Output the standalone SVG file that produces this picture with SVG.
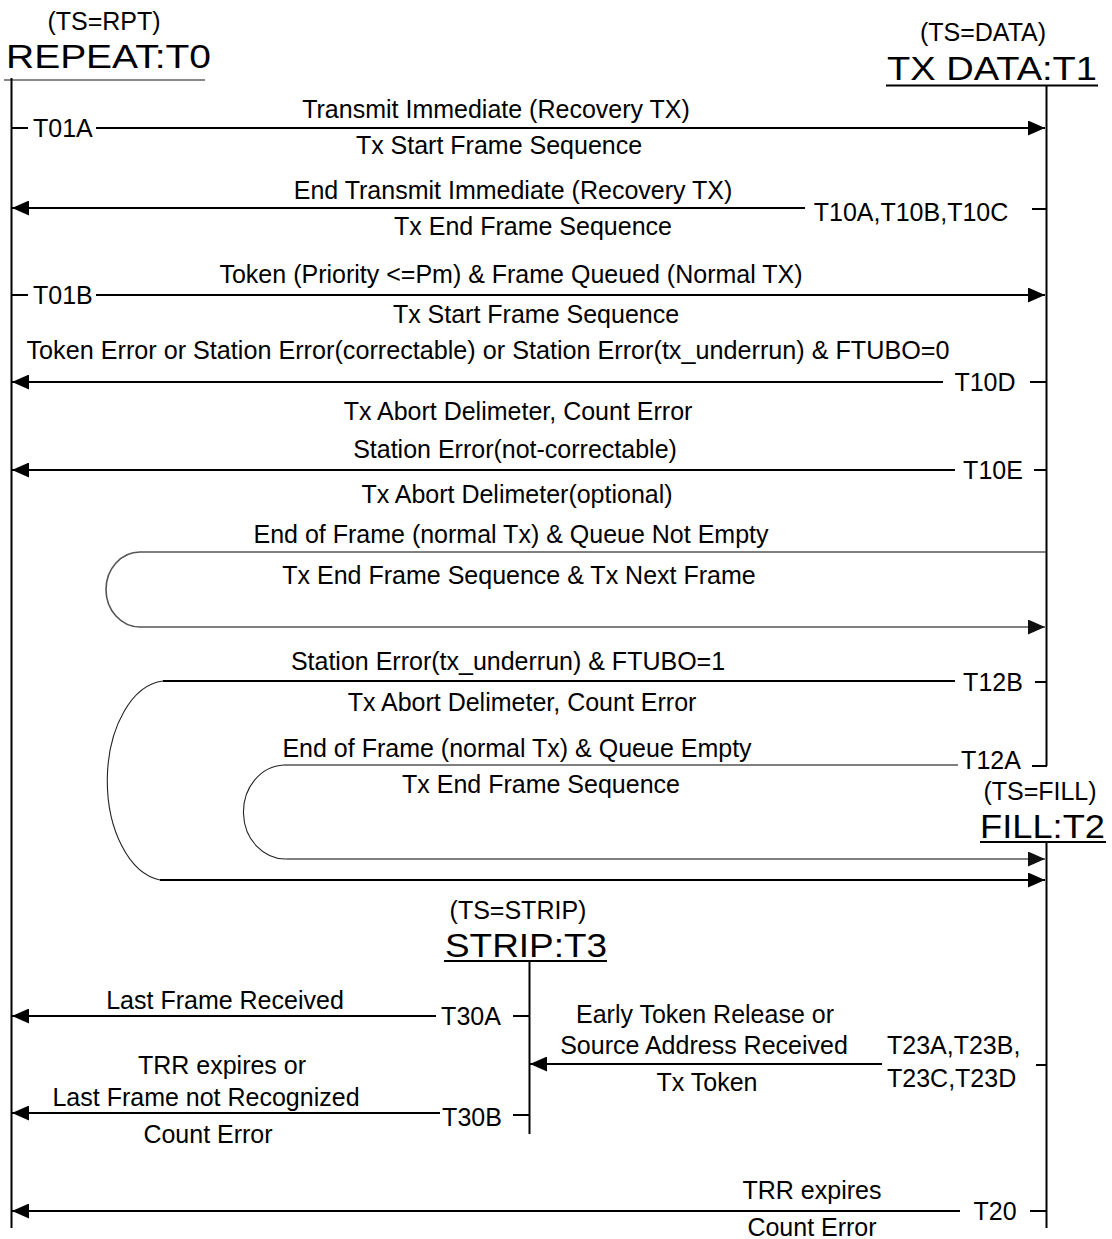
<svg xmlns="http://www.w3.org/2000/svg" width="1112" height="1239" viewBox="0 0 1112 1239">
<style>
.t{font-family:"Liberation Sans",Arial,sans-serif;font-size:25px;fill:#000}
.m{text-anchor:middle}
.h{font-size:34px}
.ln{stroke:#000;stroke-width:2;fill:none}
.g{stroke:#555;stroke-width:1.6;fill:none}
.arc{stroke:#222;stroke-width:1.1;fill:none}
</style>
<defs>
<marker id="ah" markerUnits="userSpaceOnUse" markerWidth="17" markerHeight="15" refX="17" refY="7.5" orient="auto"><path d="M0,0 L17,7.5 L0,15 z" fill="#000"/></marker>
<marker id="ahg" markerUnits="userSpaceOnUse" markerWidth="17" markerHeight="15" refX="17" refY="7.5" orient="auto"><path d="M0,0 L17,7.5 L0,15 z" fill="#111"/></marker>
</defs>
<rect width="1112" height="1239" fill="#fff"/>

<g id="node-repeat">
<text class="t m" x="104" y="30">(TS=RPT)</text>
<text class="t h" x="6" y="68" textLength="205" lengthAdjust="spacingAndGlyphs">REPEAT:T0</text>
<line x1="4" y1="80" x2="205" y2="80" stroke="#888" stroke-width="2"/>
<line class="ln" x1="11.5" y1="78" x2="11.5" y2="1228"/>
</g>

<g id="node-txdata">
<text class="t m" x="983" y="41">(TS=DATA)</text>
<text class="t h" x="887" y="80" textLength="210" lengthAdjust="spacingAndGlyphs">TX DATA:T1</text>
<line x1="886" y1="85.5" x2="1098" y2="85.5" stroke="#000" stroke-width="2"/>
<line class="ln" x1="1046.5" y1="85" x2="1046.5" y2="766"/>
</g>

<g id="node-fill">
<text class="t m" x="1040" y="800">(TS=FILL)</text>
<text class="t h" x="980" y="838" textLength="125" lengthAdjust="spacingAndGlyphs">FILL:T2</text>
<line x1="980" y1="842" x2="1106" y2="842" stroke="#000" stroke-width="2"/>
<line class="ln" x1="1046.5" y1="842" x2="1046.5" y2="1228"/>
</g>

<g id="node-strip">
<text class="t m" x="518" y="919">(TS=STRIP)</text>
<text class="t h" x="445" y="957" textLength="162" lengthAdjust="spacingAndGlyphs">STRIP:T3</text>
<line x1="444" y1="961" x2="607" y2="961" stroke="#000" stroke-width="2"/>
<line class="ln" x1="529.5" y1="961" x2="529.5" y2="1134"/>
</g>

<g id="connectors">
<g id="t01a">
<line class="ln" x1="12" y1="128" x2="28" y2="128"/>
<text class="t" x="33" y="137">T01A</text>
<line class="ln" x1="96" y1="128" x2="1045" y2="128" marker-end="url(#ah)"/>
<text class="t m" x="496" y="118">Transmit Immediate (Recovery TX)</text>
<text class="t m" x="499" y="154">Tx Start Frame Sequence</text>
</g>
<g id="t10abc">
<line class="ln" x1="1032" y1="209" x2="1046" y2="209"/>
<text class="t m" x="911" y="221">T10A,T10B,T10C</text>
<line class="ln" x1="805" y1="208" x2="12" y2="208" marker-end="url(#ah)"/>
<text class="t m" x="513" y="199">End Transmit Immediate (Recovery TX)</text>
<text class="t m" x="533" y="235">Tx End Frame Sequence</text>
</g>
<g id="t01b">
<line class="ln" x1="12" y1="295" x2="28" y2="295"/>
<text class="t" x="33" y="304">T01B</text>
<line class="ln" x1="96" y1="295" x2="1045" y2="295" marker-end="url(#ah)"/>
<text class="t m" x="511" y="283">Token (Priority &lt;=Pm) &amp; Frame Queued (Normal TX)</text>
<text class="t m" x="536" y="323">Tx Start Frame Sequence</text>
</g>
<g id="t10d">
<text class="t m" x="488" y="359" textLength="923" lengthAdjust="spacingAndGlyphs">Token Error or Station Error(correctable) or Station Error(tx_underrun) &amp; FTUBO=0</text>
<line class="ln" x1="943" y1="382" x2="12" y2="382" marker-end="url(#ah)"/>
<text class="t m" x="985" y="391">T10D</text>
<line class="ln" x1="1030" y1="382" x2="1046" y2="382"/>
<text class="t m" x="518" y="420">Tx Abort Delimeter, Count Error</text>
</g>
<g id="t10e">
<text class="t m" x="515" y="458">Station Error(not-correctable)</text>
<line class="ln" x1="955" y1="470" x2="12" y2="470" marker-end="url(#ah)"/>
<text class="t m" x="993" y="479">T10E</text>
<line class="ln" x1="1034" y1="470" x2="1046" y2="470"/>
<text class="t m" x="517" y="503">Tx Abort Delimeter(optional)</text>
</g>
<g id="t11">
<text class="t m" x="511" y="543">End of Frame (normal Tx) &amp; Queue Not Empty</text>
<path class="g" d="M1046,552 H140 A34,37.5 0 0 0 140,627 H1045" marker-end="url(#ahg)"/>
<text class="t m" x="519" y="584">Tx End Frame Sequence &amp; Tx Next Frame</text>
</g>
<g id="t12b">
<text class="t m" x="508" y="670">Station Error(tx_underrun) &amp; FTUBO=1</text>
<line class="ln" x1="955" y1="681" x2="163" y2="681"/>
<path class="arc" d="M163,681 A60,100 0 0 0 160,880"/>
<line class="ln" x1="160" y1="880" x2="1045" y2="880" marker-end="url(#ah)"/>
<text class="t m" x="993" y="691">T12B</text>
<line class="ln" x1="1035" y1="682" x2="1046" y2="682"/>
<text class="t m" x="522" y="711">Tx Abort Delimeter, Count Error</text>
</g>
<g id="t12a">
<text class="t m" x="517" y="757">End of Frame (normal Tx) &amp; Queue Empty</text>
<path class="g" d="M958,765 H284"/>
<path class="arc" d="M284,765 A42,47 0 0 0 287,859"/>
<path class="g" d="M287,859 H1045" marker-end="url(#ahg)"/>
<text class="t m" x="991" y="769">T12A</text>
<line class="ln" x1="1032" y1="766" x2="1047" y2="766"/>
<text class="t m" x="541" y="793">Tx End Frame Sequence</text>
</g>
<g id="t30a">
<text class="t m" x="225" y="1009">Last Frame Received</text>
<line class="ln" x1="436" y1="1016" x2="12" y2="1016" marker-end="url(#ah)"/>
<text class="t m" x="471" y="1025">T30A</text>
<line class="ln" x1="513" y1="1016" x2="529" y2="1016"/>
</g>
<g id="t23">
<text class="t m" x="705" y="1023">Early Token Release or</text>
<text class="t m" x="704" y="1054">Source Address Received</text>
<line class="ln" x1="882" y1="1064" x2="530" y2="1064" marker-end="url(#ah)"/>
<text class="t m" x="707" y="1091">Tx Token</text>
<text class="t" x="887" y="1054">T23A,T23B,</text>
<text class="t" x="887" y="1087">T23C,T23D</text>
<line class="ln" x1="1036" y1="1065" x2="1046" y2="1065"/>
</g>
<g id="t30b">
<text class="t m" x="222" y="1074">TRR expires or</text>
<text class="t m" x="206" y="1106">Last Frame not Recognized</text>
<line class="ln" x1="440" y1="1113" x2="12" y2="1113" marker-end="url(#ah)"/>
<text class="t m" x="472" y="1126">T30B</text>
<line class="ln" x1="513" y1="1115" x2="529" y2="1115"/>
<text class="t m" x="208" y="1143">Count Error</text>
</g>
<g id="t20">
<text class="t m" x="812" y="1199">TRR expires</text>
<line class="ln" x1="960" y1="1211" x2="12" y2="1211" marker-end="url(#ah)"/>
<text class="t m" x="995" y="1220">T20</text>
<line class="ln" x1="1030" y1="1211" x2="1046" y2="1211"/>
<text class="t m" x="812" y="1236">Count Error</text>
</g>
</g>
</svg>
